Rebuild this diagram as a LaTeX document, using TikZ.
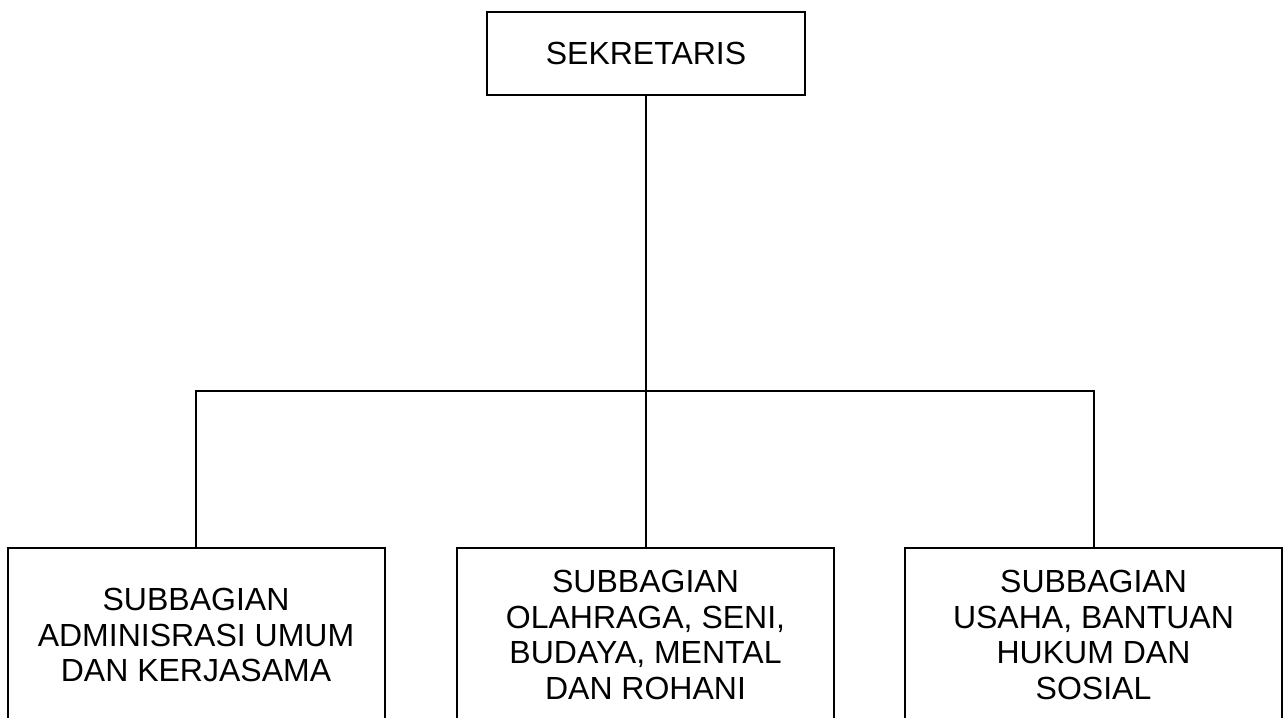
\documentclass[tikz,border=0pt]{standalone}
\usepackage{fontspec}
\setmainfont{Liberation Sans}
\usepackage{tikz}

\begin{document}
\begin{tikzpicture}[x=0.5pt, y=-0.5pt, line width=1pt,
    kotak/.style={draw, line width=1pt, align=center, inner sep=0pt,
        font=\fontsize{16}{17.8}\selectfont},
    subbag/.style={kotak, minimum width=188.5pt, minimum height=87pt}]
    \useasboundingbox (0,0) rectangle (1288,717);
    \clip (0,0) rectangle (1288,717);

    % Sekretaris
    \node[kotak, minimum width=159pt, minimum height=41.5pt] (sek) at (646,53.5) {SEKRETARIS};

    % Subbagian
    \node[subbag] (adm) at (196,635) {SUBBAGIAN\\ADMINISRASI UMUM\\DAN KERJASAMA};
    \node[subbag] (ola) at (645.5,635) {SUBBAGIAN\\OLAHRAGA, SENI,\\BUDAYA, MENTAL\\DAN ROHANI};
    \node[subbag] (usa) at (1093.5,635) {SUBBAGIAN\\USAHA, BANTUAN\\HUKUM DAN\\SOSIAL};

    % Garis
    \coordinate (bar) at (646,391);
    \draw (sek.south) -- (bar);
    \draw (adm.north) |- (bar) -| (usa.north);
    \draw (bar) -- (bar |- ola.north);
\end{tikzpicture}
\end{document}
